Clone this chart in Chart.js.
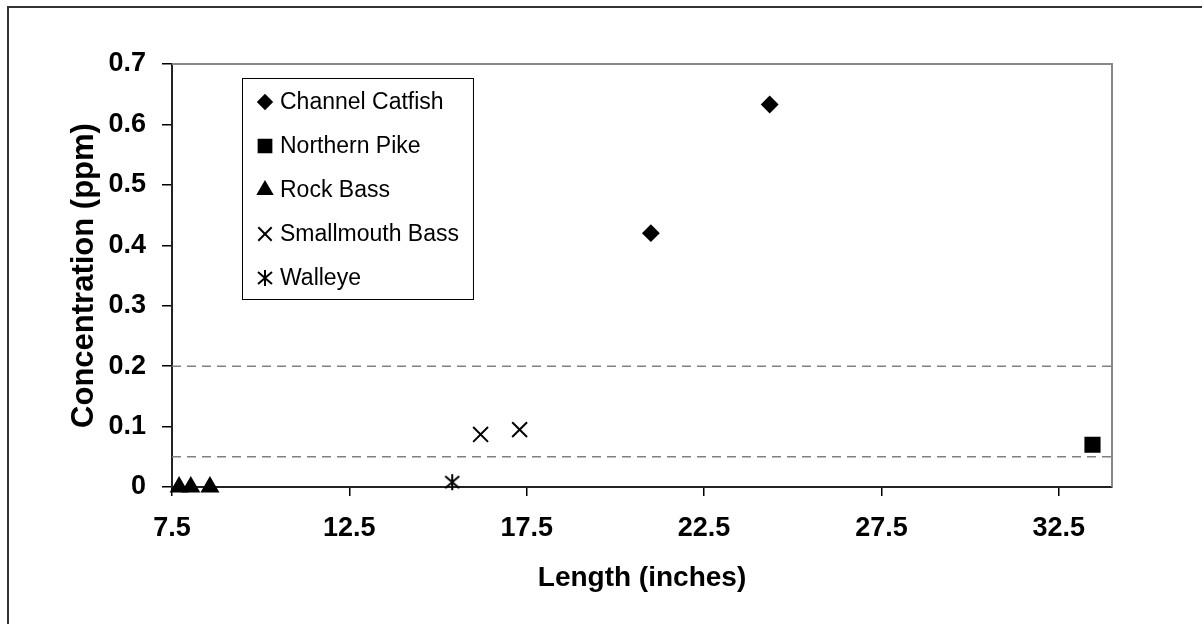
<!DOCTYPE html>
<html>
<head>
<meta charset="utf-8">
<script src="https://cdn.jsdelivr.net/npm/chart.js@4/dist/chart.umd.min.js"></script>
<style>
  html, body { margin: 0; padding: 0; background: #fff; overflow: hidden; }
  canvas { display: block; }
</style>
</head>
<body>
<canvas id="chart" width="1202" height="624"></canvas>
<script>
// values
const catfishX = [21.0, 24.35];
const catfishY = [0.42, 0.633];
const pikeX = [33.45];
const pikeY = [0.07];
const rockBassX = [7.7, 8.03, 8.57];
const rockBassY = [0, 0, 0];
const smallmouthX = [16.2, 17.3];
const smallmouthY = [0.087, 0.095];
const walleyeX = [15.4];
const walleyeY = [0.008];

const limitLines = [0.2, 0.05];
const xTicks = [7.5, 12.5, 17.5, 22.5, 27.5, 32.5];
const yTicks = [0, 0.1, 0.2, 0.3, 0.4, 0.5, 0.6, 0.7];
const xRange = [7.5, 34];
const yRange = [0, 0.7];

const pts = (xs, ys) => xs.map((x, i) => ({ x: x, y: ys[i] }));

// asterisk marker (x with a vertical bar)
function asterisk() {
  const c = document.createElement('canvas');
  c.width = 20; c.height = 20;
  const g = c.getContext('2d');
  g.strokeStyle = '#000';
  g.lineWidth = 2;
  g.beginPath();
  g.moveTo(3, 4); g.lineTo(17, 16);
  g.moveTo(17, 4); g.lineTo(3, 16);
  g.moveTo(10, 2); g.lineTo(10, 18);
  g.stroke();
  return c;
}

const marker = (label, xs, ys, style, radius) => ({
  label: label,
  data: pts(xs, ys),
  pointStyle: style,
  pointRadius: radius,
  pointHoverRadius: radius,
  pointBackgroundColor: '#000',
  pointBorderColor: '#000',
  pointBorderWidth: 2,
  showLine: false,
  clip: false,
  inLegend: true
});

const datasets = [
  marker('Channel Catfish', catfishX, catfishY, 'rectRot', 7.5),
  marker('Northern Pike', pikeX, pikeY, 'rect', 10),
  marker('Rock Bass', rockBassX, rockBassY, 'triangle', 9),
  marker('Smallmouth Bass', smallmouthX, smallmouthY, 'crossRot', 10.5),
  marker('Walleye', walleyeX, walleyeY, asterisk(), 8)
];

limitLines.forEach(v => {
  datasets.unshift({
    label: 'limit ' + v,
    data: pts(xRange, [v, v]),
    showLine: true,
    borderColor: '#808080',
    borderWidth: 1.5,
    borderDash: [9, 6],
    pointRadius: 0,
    inLegend: false
  });
});

const pageFrame = {
  id: 'pageFrame',
  beforeDraw(chart) {
    const ctx = chart.ctx;
    ctx.save();
    ctx.fillStyle = '#fff';
    ctx.fillRect(0, 0, chart.width, chart.height);
    ctx.strokeStyle = '#333';
    ctx.lineWidth = 2;
    ctx.strokeRect(8, 7, chart.width + 20, chart.height + 20);
    ctx.restore();
  },
  beforeDatasetsDraw(chart) {
    const { ctx, chartArea: a } = chart;
    ctx.save();
    ctx.strokeStyle = '#888';
    ctx.lineWidth = 2;
    ctx.beginPath();
    ctx.moveTo(a.left, a.top);
    ctx.lineTo(a.right, a.top);
    ctx.lineTo(a.right, a.bottom);
    ctx.stroke();
    ctx.restore();
  }
};

const boxLegend = {
  id: 'boxLegend',
  afterDatasetsDraw(chart, args, opts) {
    const ctx = chart.ctx;
    const items = chart.data.datasets.filter(d => d.inLegend);
    ctx.save();
    ctx.font = opts.font;
    let w = 0;
    items.forEach(d => { w = Math.max(w, ctx.measureText(d.label).width); });
    const right = opts.textX + w + 14;
    ctx.fillStyle = '#fff';
    ctx.fillRect(opts.left, opts.top, right - opts.left, opts.bottom - opts.top);
    ctx.strokeStyle = '#000';
    ctx.lineWidth = 1;
    ctx.strokeRect(opts.left + 0.5, opts.top + 0.5, right - opts.left, opts.bottom - opts.top);
    ctx.textBaseline = 'middle';
    items.forEach((d, i) => {
      const y = opts.firstY + i * opts.step;
      ctx.fillStyle = '#000';
      ctx.strokeStyle = '#000';
      ctx.lineWidth = 2;
      Chart.helpers.drawPoint(ctx, { pointStyle: d.pointStyle, radius: d.pointRadius * 0.9, borderWidth: 2, rotation: 0 }, opts.markerX, y);
      ctx.fillStyle = '#000';
      ctx.fillText(d.label, opts.textX, y + 1);
    });
    ctx.restore();
  }
};

new Chart(document.getElementById('chart'), {
  type: 'scatter',
  data: { datasets: datasets },
  options: {
    responsive: false,
    animation: false,
    devicePixelRatio: 1,
    layout: { padding: { left: 0, top: 64, right: 90, bottom: 0 } },
    plugins: {
      legend: { display: false },
      tooltip: { enabled: false },
      boxLegend: {
        left: 242, top: 78, bottom: 299,
        markerX: 265, textX: 280, firstY: 102, step: 44,
        font: '23px "Liberation Sans", Arial, sans-serif'
      }
    },
    scales: {
      x: {
        type: 'linear',
        min: xRange[0],
        max: xRange[1],
        afterFit: s => { s.height = 137; },
        afterBuildTicks: s => { s.ticks = xTicks.map(v => ({ value: v })); },
        border: { display: true, color: '#222', width: 2 },
        grid: { drawOnChartArea: false, drawTicks: true, tickLength: 9, tickColor: '#000', lineWidth: 1.5 },
        ticks: {
          color: '#000',
          padding: 16,
          maxRotation: 0,
          font: { family: '"Liberation Sans", Arial, sans-serif', size: 27, weight: 'bold' },
          callback: v => String(v)
        },
        title: {
          display: true,
          text: 'Length (inches)',
          color: '#000',
          font: { family: '"Liberation Sans", Arial, sans-serif', size: 28, weight: 'bold' },
          padding: { top: 0, bottom: 29 }
        }
      },
      y: {
        type: 'linear',
        min: yRange[0],
        max: yRange[1],
        afterFit: s => { s.width = 172; },
        afterBuildTicks: s => { s.ticks = yTicks.map(v => ({ value: v })); },
        border: { display: true, color: '#222', width: 2 },
        grid: { drawOnChartArea: false, drawTicks: true, tickLength: 10, tickColor: '#000', lineWidth: 1.5 },
        ticks: {
          color: '#000',
          padding: 16,
          font: { family: '"Liberation Sans", Arial, sans-serif', size: 27, weight: 'bold' },
          callback: v => String(Math.round(v * 10) / 10)
        },
        title: {
          display: true,
          text: 'Concentration (ppm)',
          color: '#000',
          font: { family: '"Liberation Sans", Arial, sans-serif', size: 31, weight: 'bold' },
          padding: { top: 66, bottom: 0 }
        }
      }
    }
  },
  plugins: [pageFrame, boxLegend]
});
</script>
</body>
</html>
